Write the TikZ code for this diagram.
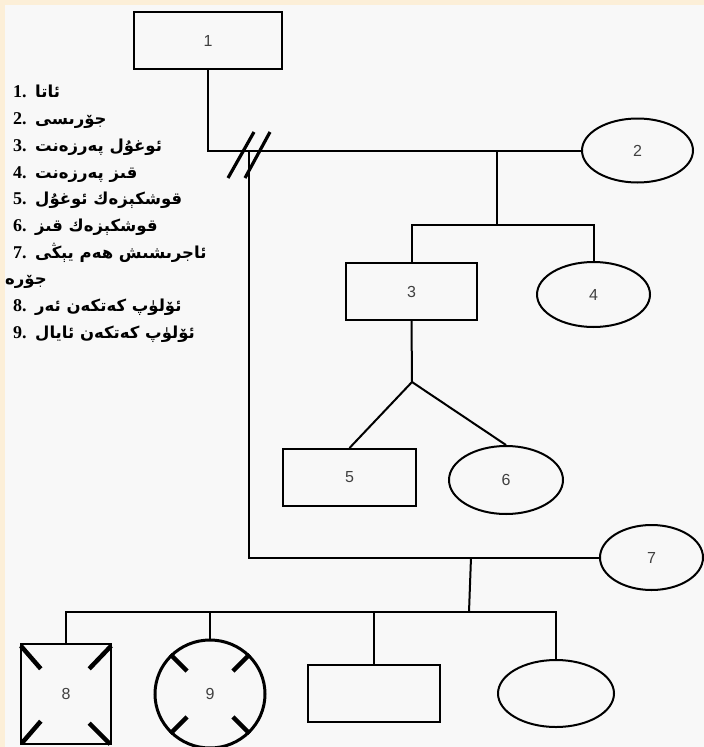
\documentclass[tikz,border=0pt]{standalone}
\usepackage{fontspec}
\setmainfont{Liberation Serif}
\newfontfamily\arabicfont[Script=Arabic]{DejaVu Sans}
\newfontfamily\labelfont{Liberation Sans}
\usetikzlibrary{shapes.geometric,calc}
\TeXXeTstate=1
\definecolor{cream}{HTML}{FCEFD8}
\definecolor{paper}{HTML}{F8F8F8}
\definecolor{labelgray}{HTML}{404040}
\newcommand{\legnum}[1]{\makebox[22pt][l]{\fontsize{18}{20}\selectfont\bfseries #1}}
\newcommand{\legtext}[1]{{\arabicfont\bfseries\fontsize{16.5}{19}\selectfont\beginR #1\endR}}
\begin{document}
\begin{tikzpicture}[x=1pt,y=-1pt,
  person/.style={draw=black, line width=2pt, inner sep=0pt, font=\labelfont\fontsize{16}{18}\selectfont, text=labelgray},
  male/.style={person, rectangle},
  female/.style={person, ellipse},
  conn/.style={line width=2pt, black},
  slash/.style={line width=3.2pt, black},
  deadmark/.style={line width=4.5pt, black},
  legend/.style={anchor=base west, inner sep=0pt}
]
\useasboundingbox (0,0) rectangle (704,747);
\fill[cream] (0,0) rectangle (704,747);
\fill[paper] (5,5) rectangle (704,747);

% people
\node[male, line width=2.4pt, minimum width=148pt, minimum height=57pt] (n1) at (208,40.5) {1};
\node[female, minimum width=111pt, minimum height=64pt] (n2) at (637.5,150.5) {2};
\node[male, minimum width=131pt, minimum height=57pt] (n3) at (411.5,291.5) {3};
\node[female, minimum width=113pt, minimum height=65pt] (n4) at (593.5,294.5) {4};
\node[male, minimum width=133pt, minimum height=57pt] (n5) at (349.5,477.5) {5};
\node[female, minimum width=114pt, minimum height=68pt] (n6) at (506,480) {6};
\node[female, minimum width=103pt, minimum height=65pt] (n7) at (651.5,557.5) {7};
\node[male, line width=2.4pt, minimum width=90pt, minimum height=100pt] (n8) at (66,694) {8};
\node[female, line width=3pt, minimum width=110pt, minimum height=108pt] (n9) at (210,694) {9};
\node[male, minimum width=132pt, minimum height=57pt] (n10) at (374,693.5) {};
\node[female, minimum width=116pt, minimum height=67pt] (n11) at (556,693.5) {};

% junction points
\coordinate (m1) at (497,151);
\coordinate (c1) at (497,225);
\coordinate (fork) at (412,382);
\coordinate (m2) at (249,151);
\coordinate (m3) at (471,557.5);
\coordinate (c3) at (469,612);

% connectors
\draw[conn] (n1.south) |- (n2.west);
\draw[conn] (m1) -- (c1);
\draw[conn] (n3.north) |- (c1) -| (n4.north);
\draw[conn] (n3.south) -- (fork);
\draw[conn] (fork) -- (n5.north);
\draw[conn] (fork) -- (n6.north);
\draw[conn] (m2) |- (n7.west);
\draw[conn] (m3) -- (c3);
\draw[conn] (n8.north) |- (c3) -| (n11.north);
\draw[conn] (n9.north) -- (n9.north |- c3);
\draw[conn] (n10.north) -- (n10.north |- c3);

% divorce slashes
\draw[slash] (228,178) -- (254,132);
\draw[slash] (245,178) -- (270,132);

% deceased marks
\draw[deadmark] ($(n8.north west)+(1,3)$) -- ($(n8.north west)+(21,26)$);
\draw[deadmark] ($(n8.north east)+(-1,3)$) -- ($(n8.north east)+(-23,26)$);
\draw[deadmark] ($(n8.south west)+(2,-2)$) -- ($(n8.south west)+(21,-24)$);
\draw[deadmark] ($(n8.south east)+(-2,-1)$) -- ($(n8.south east)+(-23,-22)$);
\foreach \a in {45,135,225,315}{
  \draw[deadmark] (n9.\a) -- ($(n9.center)!0.58!(n9.\a)$);
}

% legend
\node[legend] (l1) at (13,97) {\legnum{1.}\legtext{ئاتا}};
\node[legend] (l2) at (13,124) {\legnum{2.}\legtext{جۆرىسى}};
\node[legend] (l3) at (13,151) {\legnum{3.}\legtext{ئوغۇل پەرزەنت}};
\node[legend] (l4) at (13,178) {\legnum{4.}\legtext{قىز پەرزەنت}};
\node[legend] (l5) at (13,204) {\legnum{5.}\legtext{قوشكېزەك ئوغۇل}};
\node[legend] (l6) at (13,231) {\legnum{6.}\legtext{قوشكېزەك قىز}};
\node[legend] (l7) at (13,258) {\legnum{7.}\legtext{ئاجرىشىش ھەم يېڭى}};
\node[legend] (l7b) at (5,284) {\legtext{جۆرە}};
\node[legend] (l8) at (13,311) {\legnum{8.}\legtext{ئۆلۈپ كەتكەن ئەر}};
\node[legend] (l9) at (13,338) {\legnum{9.}\legtext{ئۆلۈپ كەتكەن ئايال}};
\end{tikzpicture}
\end{document}
